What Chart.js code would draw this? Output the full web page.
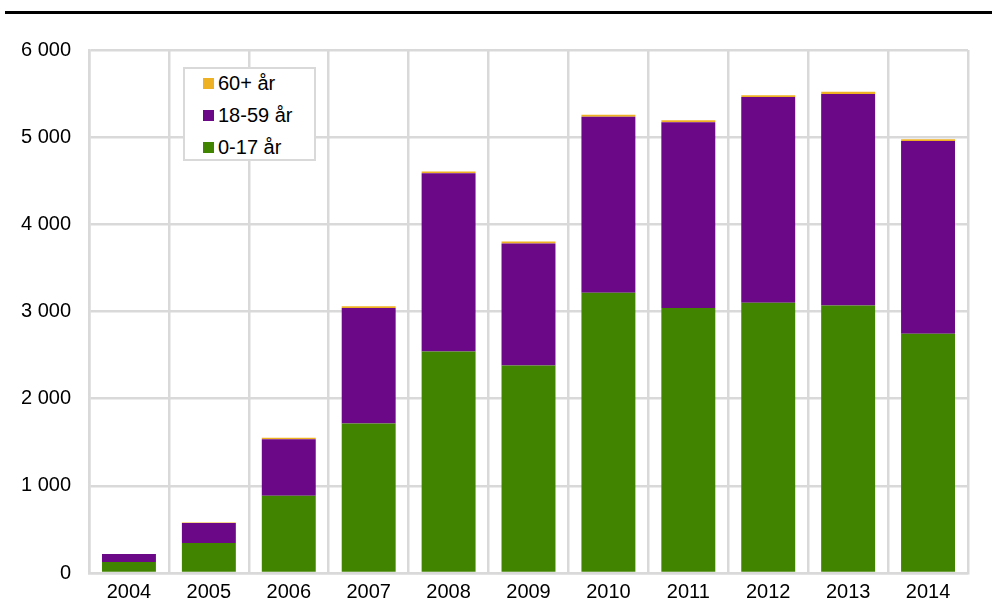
<!DOCTYPE html>
<html>
<head>
<meta charset="utf-8">
<script src="https://cdn.jsdelivr.net/npm/chart.js@4/dist/chart.umd.min.js"></script>
<style>
  body { margin: 0; background: #fff; font-family: "Liberation Sans", Arial, sans-serif; }
  #wrap { position: relative; width: 992px; height: 603px; }
  #rule { position: absolute; left: 5px; right: 0; top: 11px; height: 3px; background: #000; }
  #legend {
    position: absolute; left: 183px; top: 67px; width: 129px; height: 90px;
    border: 2px solid #d9d9d9; background: #fff; padding: 0;
  }
  .item { position: absolute; left: 18px; font-size: 20px; color: #000; line-height: 22px; }
  .item span.sw { display: inline-block; width: 11px; height: 11px; margin-right: 4px; vertical-align: 1px; }
</style>
</head>
<body>
<div id="wrap">
  <div id="rule"></div>
  <canvas id="mainChart" width="992" height="603"></canvas>
  <div id="legend"></div>
</div>
<script>
const years = ["2004", "2005", "2006", "2007", "2008", "2009", "2010", "2011", "2012", "2013", "2014"];
const age0to17 = [125, 345, 885, 1715, 2540, 2380, 3215, 3040, 3100, 3070, 2745];
const age18to59 = [92, 230, 650, 1325, 2045, 1400, 2020, 2130, 2360, 2425, 2210];
const age60plus = [2, 3, 18, 20, 22, 22, 22, 23, 20, 27, 20];
const yTicks = [0, 1000, 2000, 3000, 4000, 5000, 6000];

const colors = { young: "#408400", adult: "#6a0888", old: "#eeb124" };
const gridColor = "#d9d9d9";

function formatThousands(v) {
  return String(v).replace(/\B(?=(\d{3})+(?!\d))/g, " ");
}

const datasets = [
  { label: "0-17 år", data: age0to17, backgroundColor: colors.young },
  { label: "18-59 år", data: age18to59, backgroundColor: colors.adult },
  { label: "60+ år", data: age60plus, backgroundColor: colors.old }
];

const ctx = document.getElementById("mainChart").getContext("2d");
const chart = new Chart(ctx, {
  type: "bar",
  data: { labels: years, datasets },
  options: {
    responsive: false,
    animation: false,
    layout: { padding: { top: 50, right: 24, left: 0, bottom: 0 } },
    datasets: { bar: { barPercentage: 1, categoryPercentage: 0.675 } },
    plugins: { legend: { display: false }, tooltip: { enabled: false } },
    scales: {
      x: {
        stacked: true,
        grid: { color: gridColor, lineWidth: 2.5, drawTicks: false, offset: true },
        border: { color: gridColor, width: 2.5 },
        ticks: { color: "#000", font: { family: "Liberation Sans", size: 20 }, padding: 7, maxRotation: 0 },
        afterFit: (s) => { s.height = 27; }
      },
      y: {
        stacked: true,
        min: 0,
        max: 6000,
        grid: { color: gridColor, lineWidth: 2.5, drawTicks: false },
        border: { color: gridColor, width: 2.5 },
        afterBuildTicks: (s) => { s.ticks = yTicks.map((v) => ({ value: v })); },
        ticks: {
          color: "#000",
          font: { family: "Liberation Sans", size: 20 },
          padding: 18,
          callback: (v) => formatThousands(v)
        },
        afterFit: (s) => { s.width = 89; }
      }
    }
  }
});

// legend, top entry = last stacked series
const legend = document.getElementById("legend");
datasets.slice().reverse().forEach((ds, i) => {
  const el = document.createElement("div");
  el.className = "item";
  el.style.top = (3 + i * 32) + "px";
  el.innerHTML = '<span class="sw" style="background:' + ds.backgroundColor + '"></span>' + ds.label;
  legend.appendChild(el);
});
</script>
</body>
</html>
